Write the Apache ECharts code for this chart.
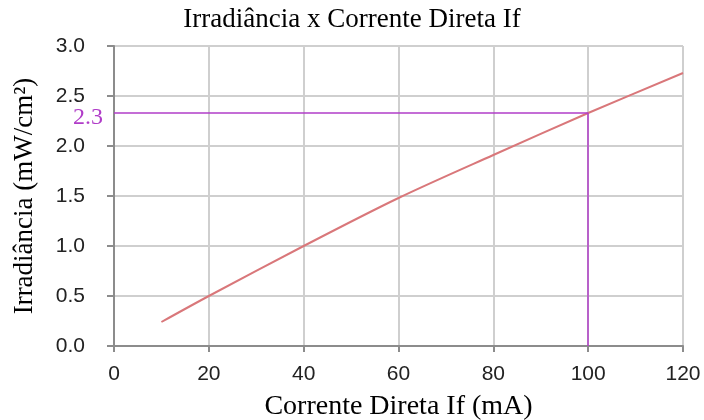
<!DOCTYPE html>
<html>
<head>
<meta charset="utf-8">
<script src="https://cdn.jsdelivr.net/npm/echarts@6/dist/echarts.min.js"></script>
<style>
  html, body { margin: 0; padding: 0; background: #fff; }
  #chart { width: 704px; height: 420px; }
</style>
</head>
<body>
<div id="chart"></div>
<script>
// Forward current (mA) and the corresponding irradiance (mW/cm²)
const currentMA = [10, 20, 40, 60, 80, 100, 120];
const irradiance = [0.24, 0.5, 1.0, 1.48, 1.91, 2.33, 2.73];

// Reading taken at 100 mA
const refCurrent = 100;
const refIrradiance = 2.33;
const refLabel = '2.3';

const serif = '"Liberation Serif", "DejaVu Serif", serif';
const sans = '"Liberation Sans", Arial, sans-serif';
const purple = '#b03cc8';

const chart = echarts.init(document.getElementById('chart'), null, { renderer: 'canvas' });

chart.setOption({
  animation: false,
  backgroundColor: '#ffffff',
  title: {
    text: 'Irradiância x Corrente Direta If',
    left: 'center',
    top: 1,
    textStyle: { fontFamily: serif, fontSize: 27, fontWeight: 'normal', color: '#000' }
  },
  grid: { left: 114, right: 21, top: 46, bottom: 74, outerBoundsMode: 'none', containLabel: false },
  xAxis: {
    type: 'value',
    min: 0, max: 120, interval: 20,
    name: 'Corrente Direta If (mA)',
    nameLocation: 'middle',
    nameGap: 47,
    nameTextStyle: { fontFamily: serif, fontSize: 28, color: '#000' },
    axisLine: { show: true, lineStyle: { color: '#8c8c8c', width: 2 } },
    axisTick: { show: true, length: 6, lineStyle: { color: '#8c8c8c', width: 2 } },
    axisLabel: { margin: 18, fontFamily: sans, fontSize: 21, color: '#222' },
    splitLine: { show: true, lineStyle: { color: '#cfcfcf', width: 2 } }
  },
  yAxis: {
    type: 'value',
    min: 0, max: 3, interval: 0.5,
    name: 'Irradiância (mW/cm²)',
    nameLocation: 'middle',
    nameGap: 76,
    nameTextStyle: { fontFamily: serif, fontSize: 27, color: '#000' },
    axisLine: { show: true, lineStyle: { color: '#8c8c8c', width: 2 } },
    axisTick: { show: true, length: 7, lineStyle: { color: '#8c8c8c', width: 2 } },
    axisLabel: {
      margin: 29, fontFamily: sans, fontSize: 21, color: '#222',
      formatter: v => v.toFixed(1)
    },
    splitLine: { show: true, lineStyle: { color: '#cfcfcf', width: 2 } }
  },
  series: [{
    type: 'line',
    data: currentMA.map((x, i) => [x, irradiance[i]]),
    smooth: 0.3,
    showSymbol: false,
    lineStyle: { color: '#d9777a', width: 2 },
    markLine: {
      silent: true,
      symbol: ['none', 'none'],
      lineStyle: { color: purple, width: 1.5, type: 'solid' },
      data: [
        [
          {
            coord: [0, refIrradiance],
            label: {
              show: true, position: 'start', distance: 11,
              formatter: '{v|' + refLabel + '}',
              rich: { v: { color: purple, fontFamily: serif, fontSize: 24, padding: [10, 0, 0, 0] } }
            }
          },
          { coord: [refCurrent, refIrradiance] }
        ],
        [
          { coord: [refCurrent, 0], label: { show: false } },
          { coord: [refCurrent, refIrradiance] }
        ]
      ]
    }
  }]
});
</script>
</body>
</html>
